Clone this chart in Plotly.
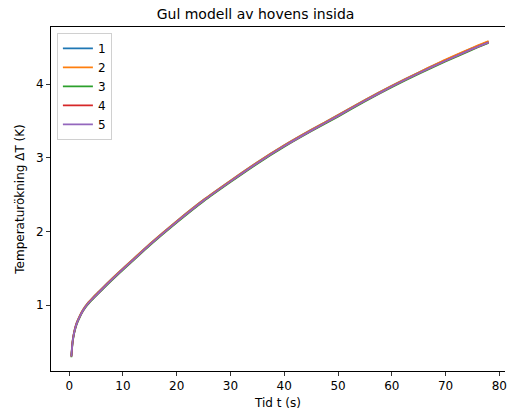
import plotly.graph_objects as go

# Data
t = [0.4, 0.6, 0.8, 1.0, 1.4, 2.0, 2.6, 3.5, 4.4, 5.5, 7.0, 9.0, 12, 15, 20, 25, 30, 35, 40, 45, 50, 55, 60, 65, 70, 75, 78]
series_names = ["1", "2", "3", "4", "5"]
y1 = [0.31, 0.49, 0.59, 0.66, 0.76, 0.86, 0.94, 1.03, 1.10, 1.18, 1.29, 1.43, 1.63, 1.83, 2.14, 2.43, 2.69, 2.94, 3.17, 3.38, 3.58, 3.785, 3.98, 4.16, 4.33, 4.49, 4.58]
y2 = [0.31, 0.49, 0.59, 0.66, 0.76, 0.86, 0.94, 1.03, 1.10, 1.18, 1.29, 1.43, 1.63, 1.83, 2.14, 2.43, 2.69, 2.94, 3.17, 3.38, 3.58, 3.785, 3.98, 4.16, 4.335, 4.495, 4.585]
y3 = [0.29, 0.47, 0.57, 0.64, 0.74, 0.84, 0.92, 1.01, 1.08, 1.16, 1.27, 1.41, 1.61, 1.81, 2.12, 2.41, 2.67, 2.92, 3.15, 3.36, 3.56, 3.765, 3.96, 4.14, 4.31, 4.47, 4.56]
y4 = [0.30, 0.48, 0.58, 0.65, 0.75, 0.85, 0.93, 1.02, 1.09, 1.17, 1.28, 1.42, 1.62, 1.82, 2.13, 2.42, 2.68, 2.93, 3.16, 3.37, 3.57, 3.775, 3.97, 4.15, 4.32, 4.48, 4.57]
y5 = [0.30, 0.48, 0.58, 0.65, 0.75, 0.85, 0.93, 1.02, 1.09, 1.17, 1.28, 1.42, 1.62, 1.82, 2.13, 2.42, 2.68, 2.93, 3.16, 3.37, 3.57, 3.775, 3.97, 4.15, 4.32, 4.48, 4.57]
colors = ["#1f77b4", "#ff7f0e", "#2ca02c", "#d62728", "#9467bd"]
x_ticks = [0, 10, 20, 30, 40, 50, 60, 70, 80]
y_ticks = [1, 2, 3, 4]

FONT = "DejaVu Sans"

fig = go.Figure()
for name, ys, c in zip(series_names, [y1, y2, y3, y4, y5], colors):
    fig.add_trace(go.Scatter(x=t, y=ys, mode="lines", name=name,
                             line=dict(color=c, width=1.8, shape="spline", smoothing=0.5)))

fig.update_layout(
    width=507, height=414,
    margin=dict(l=51, r=0, t=27, b=43),
    paper_bgcolor="white", plot_bgcolor="white",
    font=dict(family=FONT, size=12, color="#000"),
    title=dict(text="Gul modell av hovens insida", x=0.504, xanchor="center",
               y=1 - 14 / 414, yanchor="middle", font=dict(size=14, family=FONT, color="#000")),
    showlegend=True,
    legend=dict(x=0.013, y=0.983, xanchor="left", yanchor="top",
                bgcolor="rgba(255,255,255,0.8)", bordercolor="#d0d0d0", borderwidth=1,
                font=dict(size=12, family=FONT), tracegroupgap=0),
)
fig.update_xaxes(range=[-3.39, 81.06], tickvals=x_ticks, ticks="outside", ticklen=4,
                 tickcolor="#333", showline=True, linecolor="#000", linewidth=1, mirror=True,
                 showgrid=False, zeroline=False, ticklabeloverflow="allow",
                 title=dict(text="Tid t (s)", font=dict(size=12, family=FONT), standoff=6))
fig.update_yaxes(range=[0.103, 4.778], tickvals=y_ticks, ticks="outside", ticklen=4,
                 tickcolor="#333", showline=True, linecolor="#000", linewidth=1, mirror=False,
                 showgrid=False, zeroline=False,
                 title=dict(text="Temperaturökning ΔT (K)", font=dict(size=12, family=FONT), standoff=8))

fig.write_html("out.html")
